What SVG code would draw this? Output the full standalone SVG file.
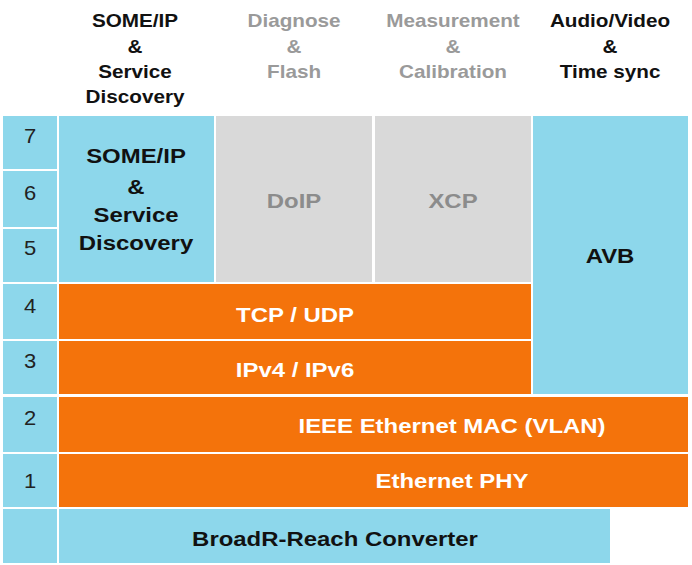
<svg xmlns="http://www.w3.org/2000/svg" width="692" height="565" viewBox="0 0 692 565">
<style>
.blue{fill:#8DD7EB}
.orange{fill:#F4730B}
.gray{fill:#D9D9D9}
text{font-family:"Liberation Sans",Arial,sans-serif;text-anchor:middle}
.hd{font-size:18px;font-weight:bold;fill:#111}
.hg{font-size:18px;font-weight:bold;fill:#9A9A9A}
.bd{font-size:21px;font-weight:bold;fill:#111}
.bg{font-size:21px;font-weight:bold;fill:#8C8C8C}
.bw{font-size:21px;font-weight:bold;fill:#FFFFFF}
.num{font-size:20px;fill:#222}
</style>
<rect width="692" height="565" fill="#FFFFFF"/>
<g id="headers">
<text class="hd" transform="translate(135,27) scale(1.15,1)">SOME/IP</text>
<text class="hd" transform="translate(135,53) scale(1.15,1)">&amp;</text>
<text class="hd" transform="translate(135,78) scale(1.15,1)">Service</text>
<text class="hd" transform="translate(135,103) scale(1.15,1)">Discovery</text>
<text class="hg" transform="translate(294,27) scale(1.15,1)">Diagnose</text>
<text class="hg" transform="translate(294,53) scale(1.15,1)">&amp;</text>
<text class="hg" transform="translate(294,78) scale(1.15,1)">Flash</text>
<text class="hg" transform="translate(453,27) scale(1.15,1)">Measurement</text>
<text class="hg" transform="translate(453,53) scale(1.15,1)">&amp;</text>
<text class="hg" transform="translate(453,78) scale(1.15,1)">Calibration</text>
<text class="hd" transform="translate(610,27) scale(1.15,1)">Audio/Video</text>
<text class="hd" transform="translate(610,53) scale(1.15,1)">&amp;</text>
<text class="hd" transform="translate(610,78) scale(1.15,1)">Time sync</text>
</g>
<g id="layer-numbers">
<rect class="blue" x="3" y="116" width="54" height="53"/>
<rect class="blue" x="3" y="171" width="54" height="56"/>
<rect class="blue" x="3" y="229" width="54" height="53"/>
<rect class="blue" x="3" y="284" width="54" height="55"/>
<rect class="blue" x="3" y="341" width="54" height="53"/>
<rect class="blue" x="3" y="397" width="54" height="55"/>
<rect class="blue" x="3" y="454" width="54" height="53"/>
<rect class="blue" x="3" y="509" width="54" height="54"/>
<text class="num" transform="translate(30,143) scale(1.1,1)">7</text>
<text class="num" transform="translate(30,200) scale(1.1,1)">6</text>
<text class="num" transform="translate(30,255) scale(1.1,1)">5</text>
<text class="num" transform="translate(30,313) scale(1.1,1)">4</text>
<text class="num" transform="translate(30,368) scale(1.1,1)">3</text>
<text class="num" transform="translate(30,425) scale(1.1,1)">2</text>
<text class="num" transform="translate(30,488) scale(1.1,1)">1</text>
</g>
<g id="someip">
<rect class="blue" x="59" y="116" width="155" height="166"/>
<text class="bd" transform="translate(136,163) scale(1.14,1)">SOME/IP</text>
<text class="bd" transform="translate(136,194) scale(1.14,1)">&amp;</text>
<text class="bd" transform="translate(136,222) scale(1.14,1)">Service</text>
<text class="bd" transform="translate(136,250) scale(1.14,1)">Discovery</text>
</g>
<g id="doip">
<rect class="gray" x="216" y="116" width="156" height="166"/>
<text class="bg" transform="translate(294,208) scale(1.14,1)">DoIP</text>
</g>
<g id="xcp">
<rect class="gray" x="375" y="116" width="156" height="166"/>
<text class="bg" transform="translate(453,208) scale(1.14,1)">XCP</text>
</g>
<g id="avb">
<rect class="blue" x="533" y="116" width="155" height="278"/>
<text class="bd" transform="translate(610,263) scale(1.14,1)">AVB</text>
</g>
<g id="tcpudp">
<rect class="orange" x="59" y="284" width="472" height="55"/>
<text class="bw" transform="translate(295,322) scale(1.14,1)">TCP / UDP</text>
</g>
<g id="ip">
<rect class="orange" x="59" y="341" width="472" height="53"/>
<text class="bw" transform="translate(295,377) scale(1.14,1)">IPv4 / IPv6</text>
</g>
<g id="mac">
<rect class="orange" x="59" y="397" width="629" height="55"/>
<text class="bw" transform="translate(452,433) scale(1.14,1)">IEEE Ethernet MAC (VLAN)</text>
</g>
<g id="phy">
<rect class="orange" x="59" y="454" width="629" height="53"/>
<text class="bw" transform="translate(452,488) scale(1.14,1)">Ethernet PHY</text>
</g>
<g id="broadr">
<rect class="blue" x="59" y="509" width="551" height="54"/>
<text class="bd" transform="translate(335,546) scale(1.14,1)">BroadR-Reach Converter</text>
</g>
<g id="connectors"></g>
</svg>
